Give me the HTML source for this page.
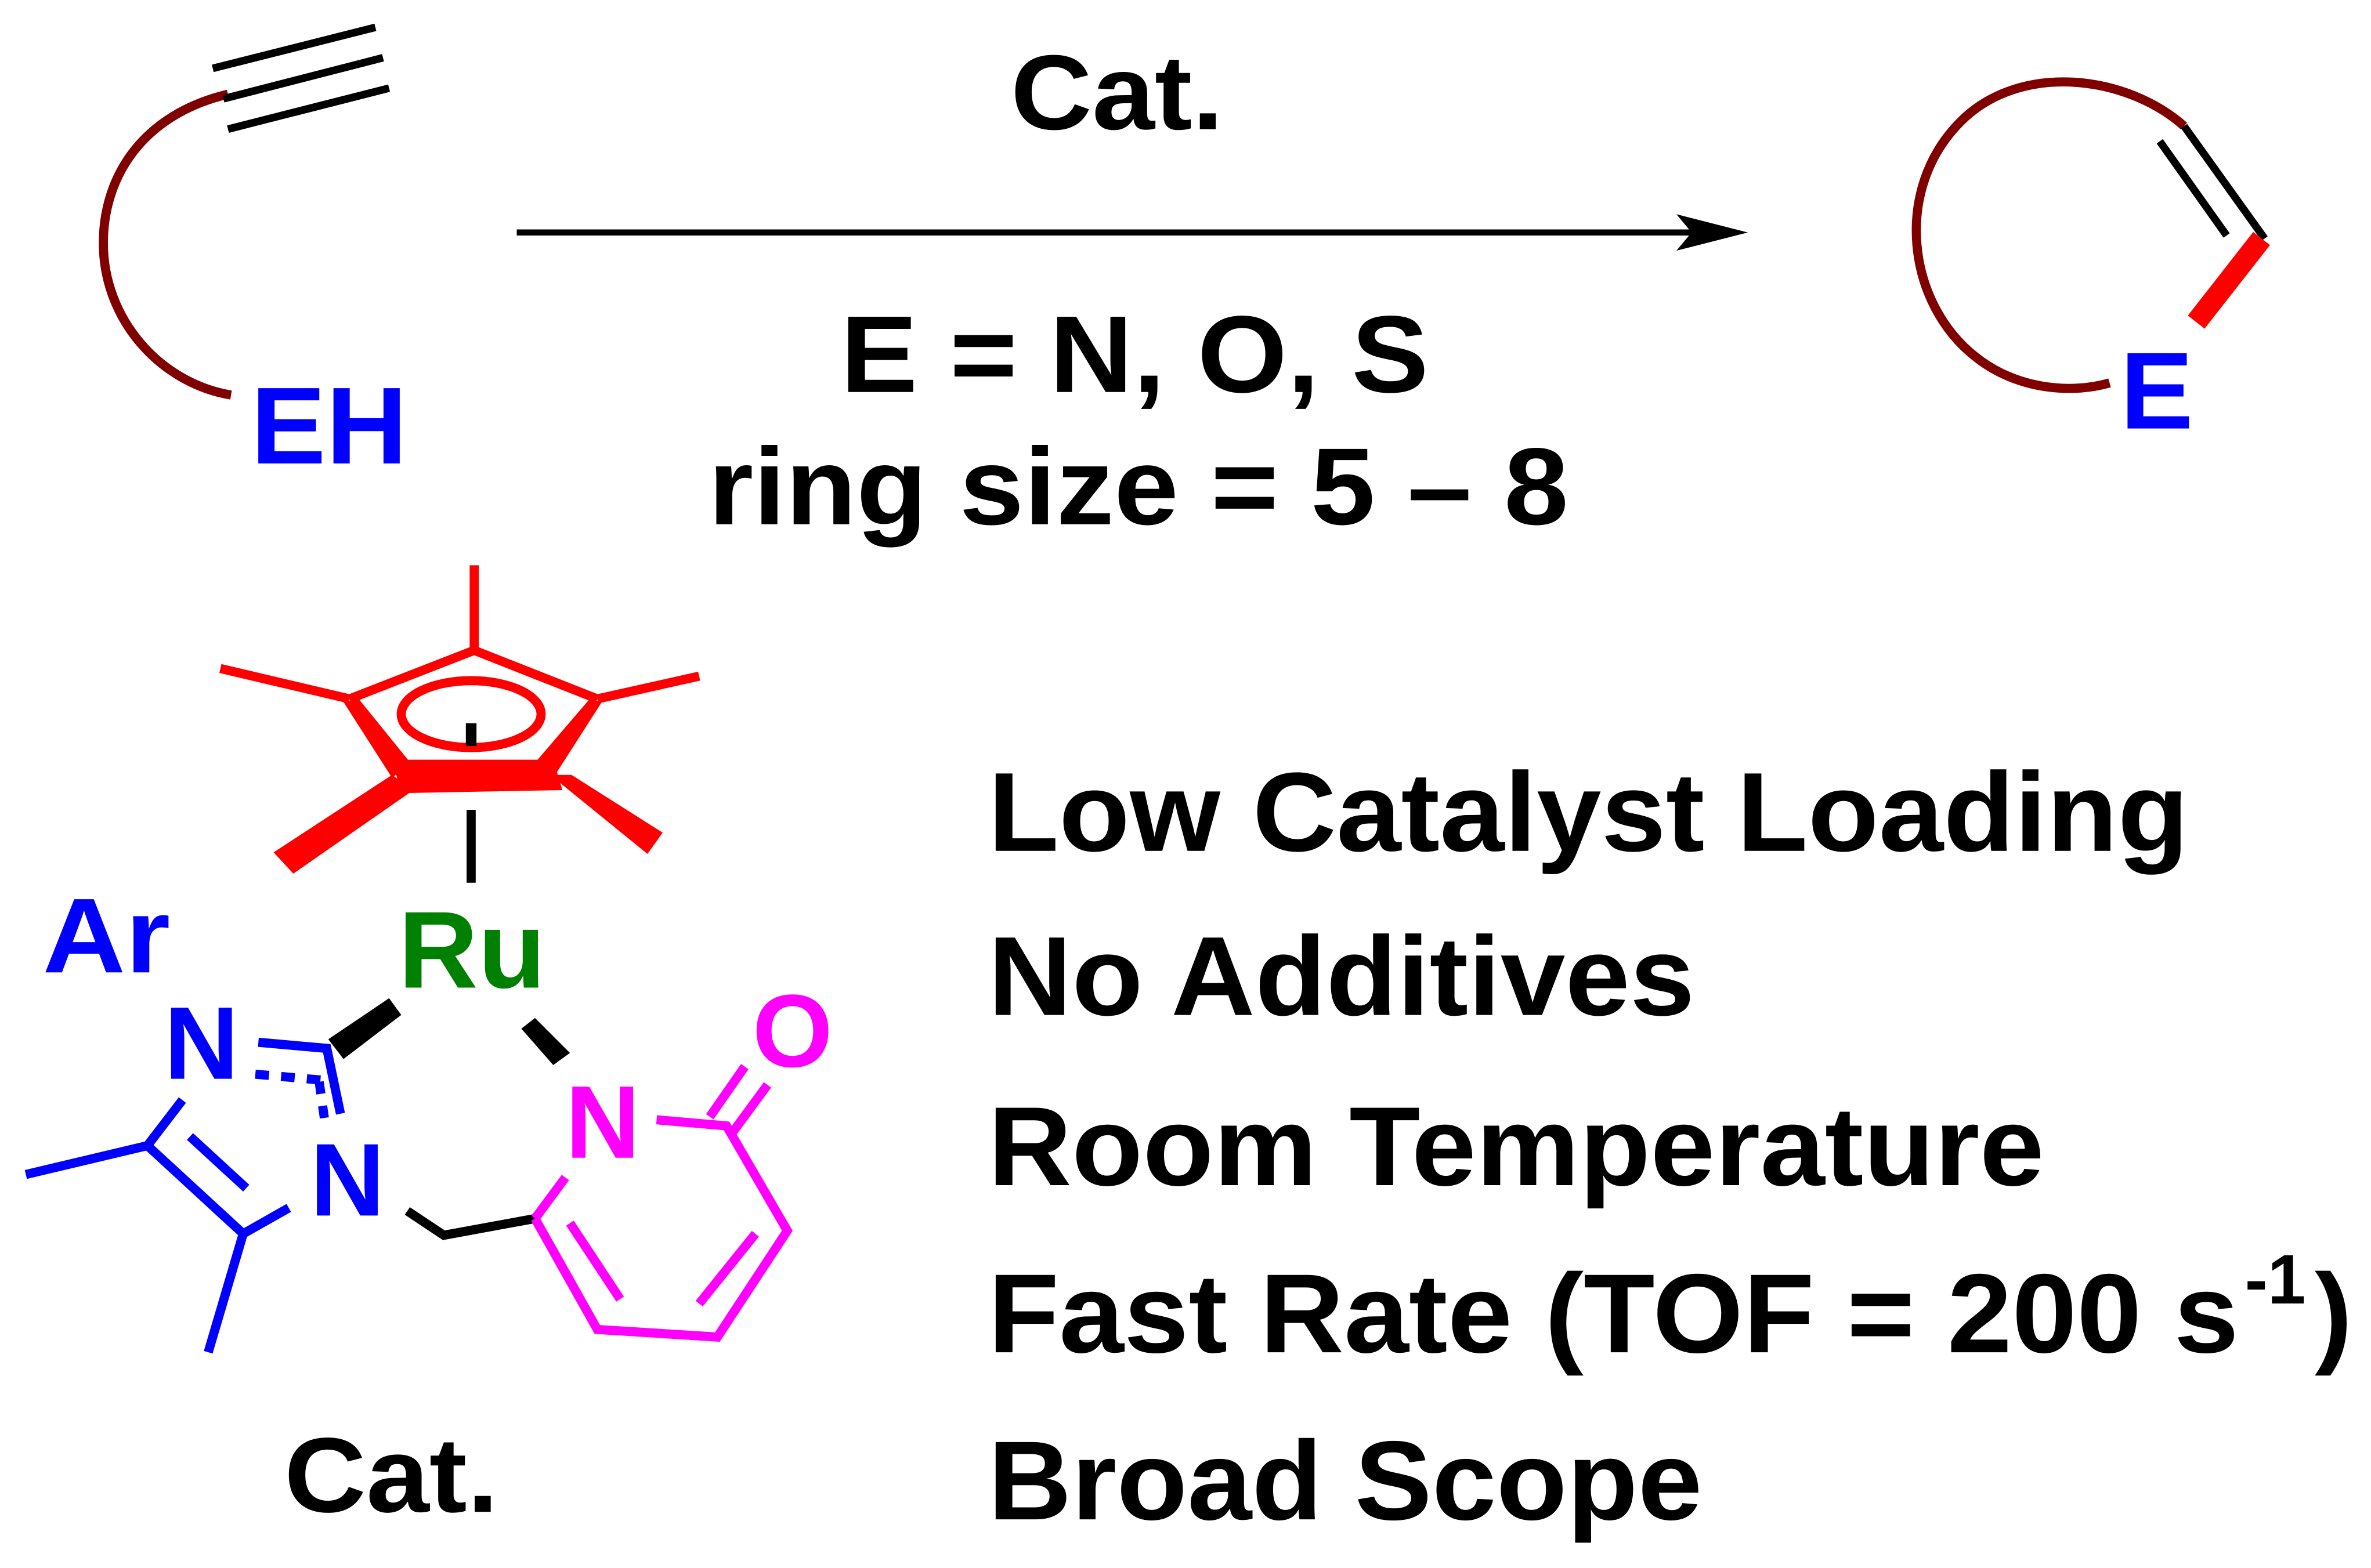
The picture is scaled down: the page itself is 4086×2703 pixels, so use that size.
<!DOCTYPE html>
<html><head><meta charset="utf-8"><style>
html,body{margin:0;padding:0;background:#fff;}
svg{display:block;}
text{font-family:"Liberation Sans",Arial,sans-serif;font-weight:bold;}
</style></head><body>
<svg width="4086" height="2703" viewBox="0 0 1560 1032" preserveAspectRatio="none" xmlns="http://www.w3.org/2000/svg">
<rect width="1560" height="1032" fill="#fff"/>
<!-- substrate -->
<path d="M150,62 C95,75 68,115 68,160 C68,210 105,252 152,260" fill="none" stroke="#800000" stroke-width="6"/>
<g stroke="#000" stroke-width="5">
<line x1="140" y1="45" x2="247" y2="18"/>
<line x1="147" y1="65" x2="252" y2="38"/>
<line x1="150" y1="85" x2="256" y2="58"/>
</g>
<text x="165" y="305" font-size="72" fill="#0000ff" textLength="103" lengthAdjust="spacingAndGlyphs">EH</text>
<!-- arrow -->
<line x1="340" y1="153" x2="1115" y2="153" stroke="#000" stroke-width="4"/>
<polygon points="1150,153 1103,141 1113,153 1103,165" fill="#000"/>
<text x="665" y="85" font-size="70" fill="#000" textLength="140" lengthAdjust="spacingAndGlyphs">Cat.</text>
<text x="553" y="258" font-size="72" fill="#000" textLength="387" lengthAdjust="spacingAndGlyphs">E = N, O, S</text>
<text x="466" y="345" font-size="72" fill="#000" textLength="566" lengthAdjust="spacingAndGlyphs">ring size = 5 – 8</text>
<!-- product -->
<path d="M1437,83 C1400,50 1330,40 1290,80 C1245,125 1255,200 1300,235 C1325,255 1360,260 1388,252" fill="none" stroke="#800000" stroke-width="6"/>
<line x1="1437" y1="83" x2="1490" y2="157" stroke="#000" stroke-width="5"/>
<line x1="1421" y1="93" x2="1465" y2="155" stroke="#000" stroke-width="5"/>
<line x1="1488" y1="157" x2="1445" y2="212" stroke="#ff0000" stroke-width="14"/>
<text x="1395" y="282" font-size="72" fill="#0000ff">E</text>
<!-- Cp* -->
<g stroke="#ff0000" stroke-width="6" fill="none">
<line x1="312" y1="372" x2="312" y2="428"/>
<polyline points="230,460 312,428 393,460"/>
<line x1="230" y1="460" x2="145" y2="440"/>
<line x1="393" y1="460" x2="460" y2="445"/>
<ellipse cx="310" cy="470" rx="46" ry="22"/>
</g>
<polygon points="226,462 236,460 270,502 258,512" fill="#ff0000"/>
<polygon points="396,462 388,460 352,502 364,512" fill="#ff0000"/>
<polygon points="258,500 364,500 370,520 264,522" fill="#ff0000"/>
<polygon points="258,510 272,520 193,575 180,561" fill="#ff0000"/>
<polygon points="362,510 376,510 436,548 426,562" fill="#ff0000"/>
<line x1="310" y1="476" x2="310" y2="491" stroke="#000" stroke-width="7"/>
<line x1="310" y1="533" x2="310" y2="581" stroke="#000" stroke-width="6"/>
<text x="262" y="650" font-size="72" fill="#008000" textLength="97" lengthAdjust="spacingAndGlyphs">Ru</text>
<text x="28" y="640" font-size="70" fill="#0000ff" textLength="84" lengthAdjust="spacingAndGlyphs">Ar</text>
<text x="108" y="710" font-size="68" fill="#0000ff">N</text>
<text x="204" y="800" font-size="68" fill="#0000ff">N</text>
<text x="372" y="762" font-size="68" fill="#ff00ff">N</text>
<text x="495" y="702" font-size="68" fill="#ff00ff">O</text>
<!-- triazole -->
<g stroke="#0000ff" stroke-width="6" fill="none">
<polyline points="170,686 215,690 224,733"/>
<line x1="120" y1="724" x2="97" y2="754"/>
<line x1="97" y1="754" x2="160" y2="812"/>
<line x1="160" y1="812" x2="190" y2="795"/>
<line x1="125" y1="748" x2="162" y2="782"/>
<line x1="97" y1="754" x2="17" y2="773"/>
<line x1="160" y1="812" x2="137" y2="890"/>
<line x1="168" y1="707" x2="213" y2="711" stroke-dasharray="9,8"/>
<line x1="210" y1="712" x2="214" y2="740" stroke-dasharray="8,8"/>
</g>
<polygon points="216,684 226,697 264,668 256,657" fill="#000"/>
<polygon points="343,677 352,670 375,693 364,701" fill="#000"/>
<polyline points="268,797 292,813 352,802" fill="none" stroke="#000" stroke-width="6"/>
<!-- pyridone -->
<g stroke="#ff00ff" stroke-width="6" fill="none">
<line x1="372" y1="775" x2="352" y2="802"/>
<polyline points="432,737 478,741 518,810 472,880 393,875 352,802"/>
<line x1="375" y1="805" x2="408" y2="855"/>
<line x1="497" y1="812" x2="460" y2="858"/>
<line x1="467" y1="735" x2="490" y2="702"/>
<line x1="480" y1="748" x2="505" y2="714"/>
</g>
<text x="187" y="995" font-size="70" fill="#000" textLength="141" lengthAdjust="spacingAndGlyphs">Cat.</text>
<!-- features -->
<g font-size="74" fill="#000">
<text x="650" y="560" textLength="790" lengthAdjust="spacingAndGlyphs">Low Catalyst Loading</text>
<text x="650" y="668" textLength="465" lengthAdjust="spacingAndGlyphs">No Additives</text>
<text x="650" y="780" textLength="695" lengthAdjust="spacingAndGlyphs">Room Temperature</text>
<text x="650" y="890" textLength="823" lengthAdjust="spacingAndGlyphs">Fast Rate (TOF = 200 s</text>
<text x="1477" y="858" font-size="46" textLength="40" lengthAdjust="spacingAndGlyphs">-1</text>
<text x="1523" y="890">)</text>
<text x="650" y="1000" textLength="470" lengthAdjust="spacingAndGlyphs">Broad Scope</text>
</g>
</svg>
</body></html>
